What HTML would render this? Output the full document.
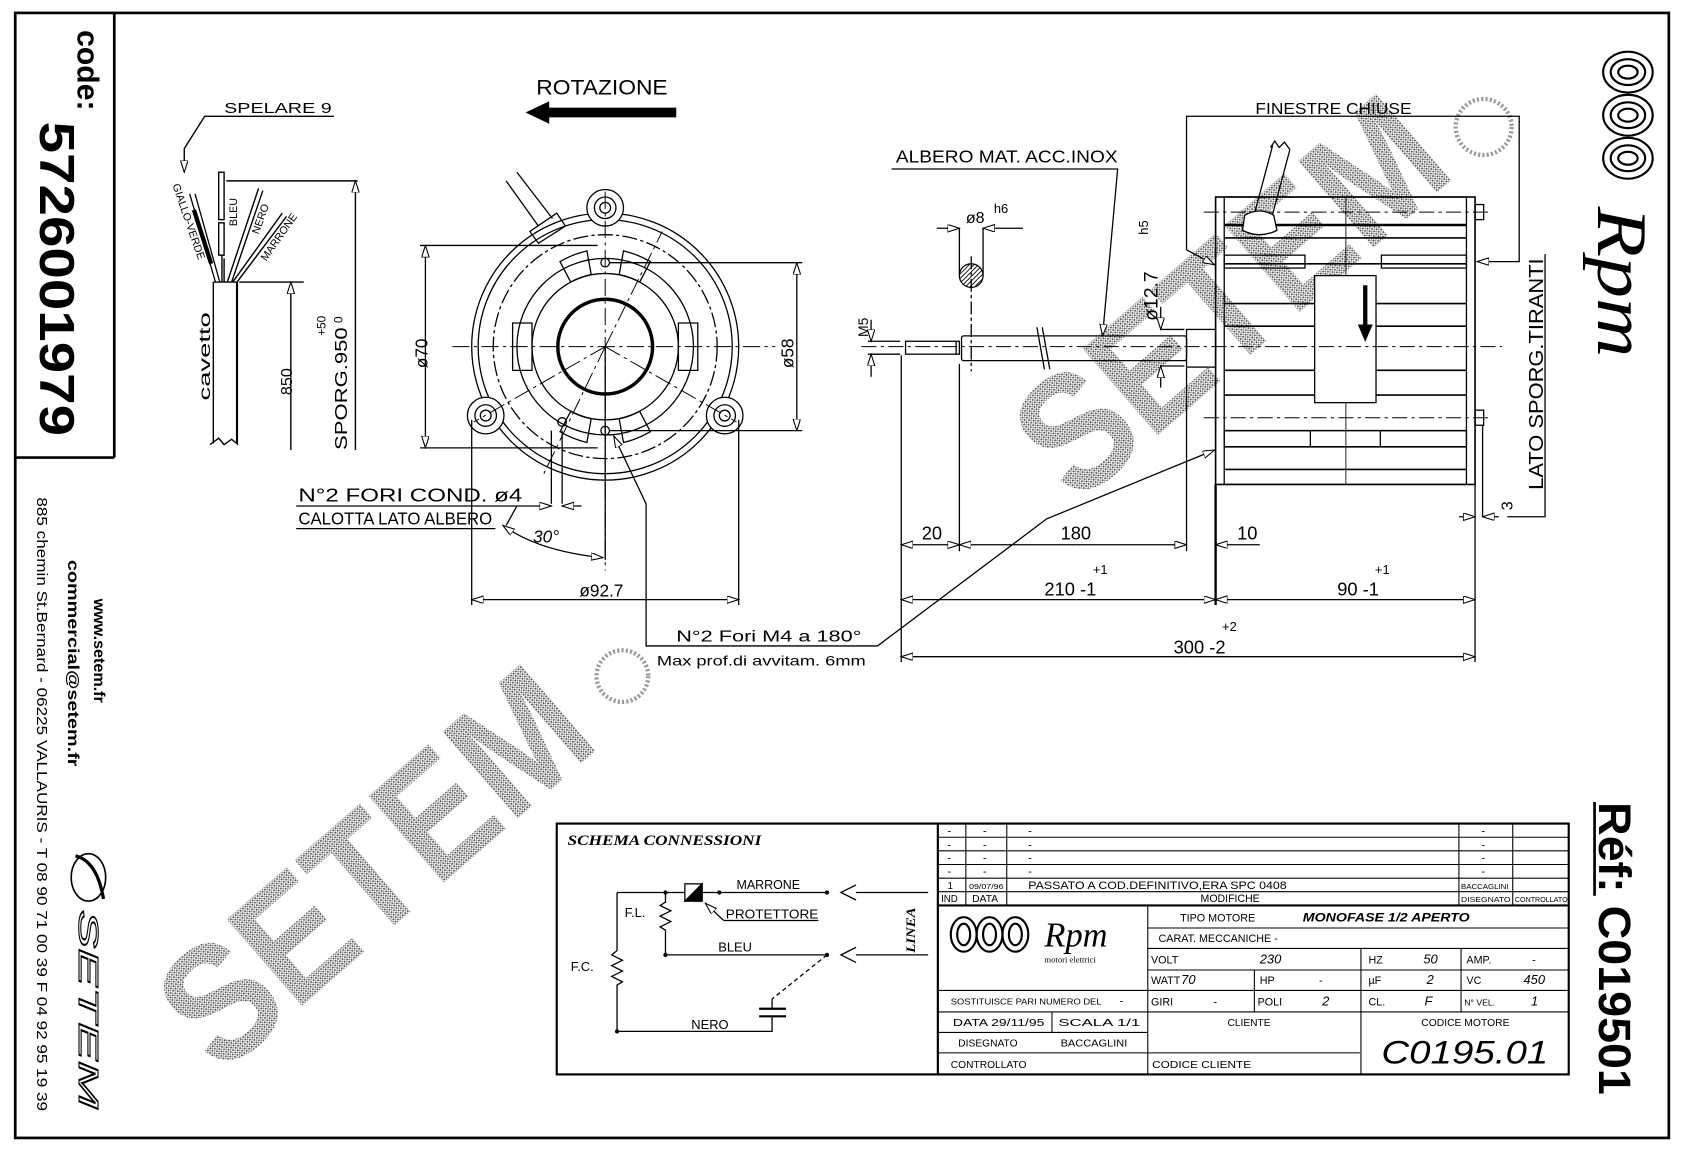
<!DOCTYPE html>
<html><head><meta charset="utf-8"><style>
html,body{margin:0;padding:0;background:#fff;}
svg{display:block;}
text{font-family:"Liberation Sans",sans-serif;fill:#000;}
</style></head><body>
<svg width="1683" height="1153" viewBox="0 0 1563 1071" xmlns="http://www.w3.org/2000/svg">
<defs>
<marker id="a" markerWidth="12" markerHeight="8" refX="11" refY="3.5" orient="auto-start-reverse" markerUnits="userSpaceOnUse">
<path d="M0,0 L11,3.5 L0,7 z" fill="#fff" stroke="#000" stroke-width="1"/></marker>
<pattern id="dots" width="3" height="3" patternUnits="userSpaceOnUse">
<rect width="3" height="3" fill="#fff"/><rect x="0" y="0" width="1.6" height="1.6" fill="#555"/><rect x="1.6" y="1.6" width="1.2" height="1.2" fill="#777"/></pattern>
<pattern id="hatch" width="3" height="3" patternUnits="userSpaceOnUse" patternTransform="rotate(45)">
<rect width="3" height="3" fill="#fff"/><line x1="0" y1="0" x2="0" y2="3" stroke="#000" stroke-width="1.6"/></pattern>
</defs>
<rect width="1563" height="1071" fill="#fff"/>

<!-- watermarks -->
<g font-weight="bold">
<text transform="translate(205,1000) rotate(-41)" font-size="155" textLength="470" lengthAdjust="spacingAndGlyphs" style="fill:url(#dots)">SETEM</text>
<text transform="translate(1000,470) rotate(-41)" font-size="155" textLength="470" lengthAdjust="spacingAndGlyphs" style="fill:url(#dots)">SETEM</text>
</g>
<circle cx="578" cy="628" r="24" fill="none" stroke="#999" stroke-width="4" stroke-dasharray="2 2"/>
<circle cx="1378" cy="118" r="26" fill="none" stroke="#999" stroke-width="4" stroke-dasharray="2 2"/>

<!-- border -->
<rect x="14" y="12" width="1536" height="1045" fill="none" stroke="#000" stroke-width="2.5"/>
<line x1="106" y1="12" x2="106" y2="425" stroke="#000" stroke-width="2.5"/>
<line x1="14" y1="425" x2="106" y2="425" stroke="#000" stroke-width="2.5"/>
<text transform="translate(72,28) rotate(90)" font-size="28" font-weight="bold">code:</text>
<text transform="translate(37,113) rotate(90)" font-size="46" font-weight="bold" textLength="292" lengthAdjust="spacingAndGlyphs">5726001979</text>
<text transform="translate(87,556) rotate(90)" font-size="15" font-weight="bold">www.setem.fr</text>
<text transform="translate(63,520) rotate(90)" font-size="15" font-weight="bold" textLength="192" lengthAdjust="spacingAndGlyphs">commercial@setem.fr</text>
<text transform="translate(34,462) rotate(90)" font-size="14" textLength="570" lengthAdjust="spacingAndGlyphs">885 chemin St.Bernard  -  06225 VALLAURIS  -  T 08 90 71 00 39  F 04 92 95 19 39</text>
<ellipse cx="82" cy="815" rx="16" ry="22" fill="none" stroke="#000" stroke-width="1.5"/>
<path d="M70,795 Q90,800 96,835" fill="none" stroke="#000" stroke-width="3"/>
<text transform="translate(73,845) rotate(90)" font-size="26" font-style="italic" stroke="#000" stroke-width="1" style="fill:none" textLength="185" lengthAdjust="spacingAndGlyphs">SETEM</text>

<!-- right logo -->
<g fill="none" stroke="#000" stroke-width="2">
<ellipse cx="1512" cy="67" rx="23" ry="19"/><ellipse cx="1512" cy="67" rx="16" ry="12"/><ellipse cx="1512" cy="67" rx="9" ry="6"/>
<ellipse cx="1512" cy="107" rx="23" ry="19"/><ellipse cx="1512" cy="107" rx="16" ry="12"/><ellipse cx="1512" cy="107" rx="9" ry="6"/>
<ellipse cx="1512" cy="147" rx="23" ry="19"/><ellipse cx="1512" cy="147" rx="16" ry="12"/><ellipse cx="1512" cy="147" rx="9" ry="6"/>
</g>
<text transform="translate(1484,192) rotate(90)" font-size="66" font-style="italic" style="font-family:'Liberation Serif',serif" textLength="140" lengthAdjust="spacingAndGlyphs">Rpm</text>
<text transform="translate(1485,745) rotate(90)" font-size="42" font-weight="bold" textLength="272" lengthAdjust="spacingAndGlyphs">Réf: C019501</text>
<line x1="1481" y1="745" x2="1481" y2="832" stroke="#000" stroke-width="2.5"/>

<!-- ===== cable ===== -->
<g stroke="#000" stroke-width="1.3" fill="none">
<text x="208" y="105" font-size="14" stroke="none" style="fill:#000" textLength="100" lengthAdjust="spacingAndGlyphs">SPELARE  9</text>
<polyline points="310,108 190,108 171,138"/>
<line x1="171" y1="138" x2="171" y2="160" marker-end="url(#a)"/>
<line x1="198" y1="262" x2="198" y2="412"/><line x1="220" y1="262" x2="220" y2="412" stroke-width="2"/>
<path d="M195,413 L203,407 L208,413 L215,408 L221,413"/>
<line x1="198" y1="262" x2="220" y2="262"/>
<path d="M200,262 L176,180 M204,262 L181,180" stroke-width="1.2"/>
<path d="M180,195 L196,245" stroke-width="4"/>
<rect x="203" y="160" width="5" height="44"/><rect x="203" y="207" width="5" height="30"/>
<line x1="206" y1="237" x2="206" y2="262"/><line x1="208" y1="240" x2="208" y2="262"/>
<path d="M211,262 L240,175 M215,262 L244,177"/>
<path d="M216,262 L262,198 M220,262 L266,201"/>
<text transform="translate(160,172) rotate(71)" font-size="10" stroke="none" style="fill:#000">GIALLO-VERDE</text>
<text transform="translate(220,210) rotate(-90)" font-size="10" stroke="none" style="fill:#000">BLEU</text>
<text transform="translate(240,218) rotate(-70)" font-size="10" stroke="none" style="fill:#000">NERO</text>
<text transform="translate(247,243) rotate(-55)" font-size="10" stroke="none" style="fill:#000">MARRONE</text>
<text transform="translate(195,372) rotate(-90)" font-size="15" stroke="none" style="fill:#000" textLength="82" lengthAdjust="spacingAndGlyphs">cavetto</text>
<line x1="210" y1="168" x2="332" y2="168"/><line x1="222" y1="262" x2="282" y2="262"/>
<line x1="270" y1="418" x2="270" y2="262" marker-end="url(#a)"/>
<line x1="330" y1="418" x2="330" y2="168" marker-end="url(#a)"/>
<text transform="translate(271,367) rotate(-90)" font-size="15" stroke="none" style="fill:#000">850</text>
<text transform="translate(322,418) rotate(-90)" font-size="16" stroke="none" style="fill:#000" textLength="114" lengthAdjust="spacingAndGlyphs">SPORG.950</text>
<text transform="translate(302,312) rotate(-90)" font-size="11" stroke="none" style="fill:#000">+50</text>
<text transform="translate(318,300) rotate(-90)" font-size="11" stroke="none" style="fill:#000">0</text>
</g>

<!-- ===== rotazione ===== -->
<text x="498" y="88" font-size="20" textLength="122" lengthAdjust="spacingAndGlyphs">ROTAZIONE</text>
<rect x="508" y="100" width="120" height="9" fill="#000"/>
<path d="M488,104.5 L510,94 L510,115 z" fill="#000"/>

<!-- ===== front view ===== -->
<g stroke="#000" fill="none" stroke-width="1.2">
<circle cx="562" cy="322" r="124"/>
<circle cx="562" cy="322" r="118"/>
<circle cx="562" cy="322" r="104" stroke-dasharray="14 3 3 3"/>
<circle cx="562" cy="322" r="82"/>
<circle cx="562" cy="322" r="68"/>
<circle cx="562" cy="322" r="44" stroke-width="3.2"/>
<circle cx="562" cy="193" r="17" fill="#fff"/><circle cx="562" cy="193" r="10"/><circle cx="562" cy="193" r="5"/>
<circle cx="451" cy="386" r="17" fill="#fff"/><circle cx="451" cy="386" r="10"/><circle cx="451" cy="386" r="5"/>
<circle cx="673" cy="386" r="17" fill="#fff"/><circle cx="673" cy="386" r="10"/><circle cx="673" cy="386" r="5"/>
<path d="M520,243 A90,90 0 0 1 545,233 L549,255 A68,68 0 0 0 530,262 z" />
<path d="M579,233 A90,90 0 0 1 604,243 L594,262 A68,68 0 0 0 575,255 z"/>
<path d="M476,300 L476,344 L494,344 L494,300 z"/>
<path d="M630,300 L630,344 L648,344 L648,300 z"/>
<path d="M520,401 A90,90 0 0 0 545,411 L549,389 A68,68 0 0 1 530,382 z"/>
<path d="M579,411 A90,90 0 0 0 604,401 L594,382 A68,68 0 0 1 575,389 z"/>
<circle cx="562" cy="244" r="4"/><circle cx="562" cy="400" r="4"/>
<circle cx="522" cy="392" r="4"/>
<path d="M500,210 L470,168 M513,203 L480,160"/>
<path d="M492,215 L517,198 L525,210 L500,226 z"/>
<g stroke-dasharray="16 4 3 4" stroke-width="0.9">
<line x1="562" y1="178" x2="562" y2="530"/>
<line x1="420" y1="322" x2="720" y2="322"/>
<line x1="562" y1="322" x2="440" y2="392"/>
<line x1="562" y1="322" x2="684" y2="392"/>
<line x1="562" y1="322" x2="505" y2="440"/>
<line x1="562" y1="322" x2="615" y2="215"/>
</g>
<line x1="390" y1="228" x2="555" y2="228"/><line x1="390" y1="416" x2="555" y2="416"/>
<line x1="395" y1="322" x2="395" y2="228" marker-end="url(#a)"/><line x1="395" y1="322" x2="395" y2="416" marker-end="url(#a)"/>
<line x1="566" y1="244" x2="745" y2="244"/><line x1="566" y1="400" x2="745" y2="400"/>
<line x1="740" y1="322" x2="740" y2="244" marker-end="url(#a)"/><line x1="740" y1="322" x2="740" y2="400" marker-end="url(#a)"/>
<line x1="438" y1="390" x2="438" y2="562"/><line x1="686" y1="390" x2="686" y2="562"/>
<line x1="562" y1="557" x2="438" y2="557" marker-end="url(#a)"/><line x1="562" y1="557" x2="686" y2="557" marker-end="url(#a)"/>
<line x1="512" y1="400" x2="512" y2="468"/><line x1="522" y1="400" x2="522" y2="468"/>
<polyline points="275,470 512,470" marker-end="url(#a)"/><line x1="540" y1="470" x2="522" y2="470" marker-end="url(#a)"/>
<line x1="275" y1="491" x2="460" y2="491"/>
<line x1="562" y1="322" x2="562" y2="520"/>
<path d="M467,488 Q500,512 560,518" marker-start="url(#a)" marker-end="url(#a)"/>
<line x1="470" y1="488" x2="480" y2="470"/>
<polyline points="815,600 600,600 600,468 570,405" marker-end="url(#a)"/>
<polyline points="815,600 972,482 1128,418" marker-end="url(#a)"/>
</g>
<text transform="translate(397,342) rotate(-90)" font-size="16">ø70</text>
<text transform="translate(737,342) rotate(-90)" font-size="16">ø58</text>
<text x="538" y="554" font-size="16">ø92.7</text>
<text x="277" y="466" font-size="17" textLength="208" lengthAdjust="spacingAndGlyphs">N°2 FORI COND.  ø4</text>
<text x="277" y="487" font-size="16" textLength="180" lengthAdjust="spacingAndGlyphs">CALOTTA LATO ALBERO</text>
<text x="495" y="504" font-size="16" font-style="italic">30°</text>
<text x="628" y="596" font-size="15" textLength="172" lengthAdjust="spacingAndGlyphs">N°2 Fori M4 a 180°</text>
<text x="610" y="618" font-size="13" textLength="194" lengthAdjust="spacingAndGlyphs">Max prof.di avvitam. 6mm</text>

<!-- ===== side view ===== -->
<g stroke="#000" fill="none" stroke-width="1.2">
<text x="832" y="151" font-size="16" stroke="none" style="fill:#000" textLength="206" lengthAdjust="spacingAndGlyphs">ALBERO MAT. ACC.INOX</text>
<polyline points="828,157 1038,157 1024,312" marker-end="url(#a)"/>
<text x="1166" y="106" font-size="15" stroke="none" style="fill:#000" textLength="145" lengthAdjust="spacingAndGlyphs">FINESTRE CHIUSE</text>
<polyline points="1102,232 1102,108 1411,108 1411,243 1372,243" marker-end="url(#a)"/>
<line x1="1102" y1="232" x2="1128" y2="246" marker-end="url(#a)"/>
<text transform="translate(1433,455) rotate(-90)" font-size="19" stroke="none" style="fill:#000" textLength="215" lengthAdjust="spacingAndGlyphs">LATO SPORG.TIRANTI</text>
<polyline points="1435,236 1435,480 1400,480"/>
<rect x="1129" y="183" width="241" height="267" stroke-width="1.5"/>
<rect x="1137" y="183" width="225" height="267"/>
<line x1="1250" y1="183" x2="1250" y2="450" stroke-width="0.8"/>
<g stroke-width="1.5">
<line x1="1137" y1="209" x2="1362" y2="209" stroke-width="2.4"/>
<line x1="1137" y1="221" x2="1362" y2="221"/>
<line x1="1137" y1="245" x2="1362" y2="245"/>
<line x1="1137" y1="282" x2="1221" y2="282"/><line x1="1278" y1="282" x2="1362" y2="282"/>
<line x1="1137" y1="303" x2="1221" y2="303"/><line x1="1278" y1="303" x2="1362" y2="303"/>
<line x1="1137" y1="344" x2="1221" y2="344"/><line x1="1278" y1="344" x2="1362" y2="344"/>
<line x1="1137" y1="367" x2="1362" y2="367"/>
<line x1="1137" y1="400" x2="1362" y2="400"/>
<line x1="1137" y1="415" x2="1362" y2="415"/>
<line x1="1137" y1="436" x2="1362" y2="436"/>
</g>
<rect x="1137" y="237" width="75" height="12"/><rect x="1283" y="237" width="79" height="12"/>
<rect x="1137" y="400" width="80" height="15"/><rect x="1282" y="400" width="80" height="15"/>
<rect x="1221" y="256" width="57" height="118" fill="#fff"/>
<line x1="1268" y1="265" x2="1268" y2="306" stroke-width="4"/>
<path d="M1262,302 L1274,302 L1268,316 z" fill="#000"/>
<g stroke-dasharray="14 4 3 4" stroke-width="0.9">
<line x1="1118" y1="197" x2="1385" y2="197"/><line x1="1118" y1="388" x2="1385" y2="388"/>
<line x1="800" y1="322" x2="1395" y2="322"/>
</g>
<rect x="1370" y="190" width="8" height="14"/><rect x="1370" y="381" width="8" height="14"/>
<path d="M1162,210 L1182,135 M1179,210 L1198,139"/>
<path d="M1180,137 L1184,131 L1188,137 L1193,132 L1198,139" />
<path d="M1156,200 Q1170,192 1183,200 L1186,214 Q1170,222 1154,214 z" fill="#fff"/>
<rect x="1102" y="306" width="27" height="35"/>
<rect x="893" y="312" width="209" height="23" rx="2"/>
<rect x="841" y="317" width="50" height="12"/>
<line x1="888" y1="317" x2="888" y2="329"/>
<path d="M963,304 L970,343 M968,304 L975,343" />
<circle cx="902" cy="256" r="11" style="fill:url(#hatch)"/>
<line x1="902" y1="238" x2="902" y2="345" stroke-dasharray="12 3 3 3"/>
<line x1="891" y1="212" x2="891" y2="256"/><line x1="913" y1="212" x2="913" y2="256"/>
<line x1="870" y1="212" x2="891" y2="212" marker-end="url(#a)"/><line x1="950" y1="212" x2="913" y2="212" marker-end="url(#a)"/>
<text x="897" y="207" font-size="15" stroke="none" style="fill:#000">ø8</text>
<text x="923" y="198" font-size="12" stroke="none" style="fill:#000">h6</text>
<line x1="806" y1="317" x2="836" y2="317"/><line x1="806" y1="329" x2="836" y2="329"/>
<line x1="809" y1="297" x2="809" y2="317" marker-end="url(#a)"/><line x1="809" y1="350" x2="809" y2="329" marker-end="url(#a)"/>
<text transform="translate(806,313) rotate(-90)" font-size="13" stroke="none" style="fill:#000">M5</text>
<line x1="1078" y1="285" x2="1078" y2="306" marker-end="url(#a)"/><line x1="1078" y1="360" x2="1078" y2="340" marker-end="url(#a)"/>
<line x1="1078" y1="306" x2="1100" y2="306"/><line x1="1078" y1="340" x2="1100" y2="340"/>
<text transform="translate(1075,298) rotate(-90)" font-size="18" stroke="none" style="fill:#000">ø12.7</text>
<text transform="translate(1066,218) rotate(-90)" font-size="12" stroke="none" style="fill:#000">h5</text>
<line x1="837" y1="330" x2="837" y2="615"/>
<line x1="891" y1="338" x2="891" y2="512"/>
<line x1="1102" y1="342" x2="1102" y2="512"/>
<line x1="1129" y1="450" x2="1129" y2="562" stroke-width="2.2"/>
<line x1="1370" y1="450" x2="1370" y2="615"/>
<line x1="1377" y1="395" x2="1377" y2="480"/>
<line x1="864" y1="506" x2="837" y2="506" marker-end="url(#a)"/><line x1="864" y1="506" x2="891" y2="506" marker-end="url(#a)"/>
<line x1="1000" y1="506" x2="891" y2="506" marker-end="url(#a)"/><line x1="1000" y1="506" x2="1102" y2="506" marker-end="url(#a)"/>
<line x1="1170" y1="506" x2="1129" y2="506" marker-end="url(#a)"/>
<line x1="1000" y1="557" x2="837" y2="557" marker-end="url(#a)"/><line x1="1000" y1="557" x2="1129" y2="557" marker-end="url(#a)"/>
<line x1="1250" y1="557" x2="1129" y2="557" marker-end="url(#a)"/><line x1="1250" y1="557" x2="1370" y2="557" marker-end="url(#a)"/>
<line x1="1100" y1="610" x2="837" y2="610" marker-end="url(#a)"/><line x1="1100" y1="610" x2="1370" y2="610" marker-end="url(#a)"/>
<line x1="1355" y1="480" x2="1370" y2="480" marker-end="url(#a)"/><line x1="1392" y1="480" x2="1377" y2="480" marker-end="url(#a)"/>
</g>
<g font-size="17">
<text x="856" y="501">20</text><text x="985" y="501">180</text><text x="1149" y="501">10</text>
<text x="970" y="553">210 -1</text><text x="1015" y="533" font-size="12">+1</text>
<text x="1242" y="553">90 -1</text><text x="1277" y="533" font-size="12">+1</text>
<text x="1090" y="607">300 -2</text><text x="1135" y="586" font-size="12">+2</text>
<text transform="translate(1405,474) rotate(-90)" font-size="15">3</text>
</g>

<!-- ===== table ===== -->
<g stroke="#000" fill="none" stroke-width="1">
<rect x="517" y="765" width="940" height="233" stroke-width="2"/>
<line x1="871" y1="765" x2="871" y2="998" stroke-width="2"/>
<line x1="871" y1="777.7" x2="1457" y2="777.7"/>
<line x1="871" y1="790.3" x2="1457" y2="790.3"/>
<line x1="871" y1="803" x2="1457" y2="803"/>
<line x1="871" y1="815.7" x2="1457" y2="815.7"/>
<line x1="871" y1="828.3" x2="1457" y2="828.3"/>
<line x1="871" y1="841" x2="1457" y2="841" stroke-width="2"/>
<line x1="897" y1="765" x2="897" y2="841"/><line x1="935" y1="765" x2="935" y2="841"/>
<line x1="1355" y1="765" x2="1355" y2="841"/><line x1="1405" y1="765" x2="1405" y2="841"/>
<line x1="1066" y1="862" x2="1457" y2="862"/>
<line x1="1066" y1="881" x2="1457" y2="881"/>
<line x1="1066" y1="901" x2="1457" y2="901"/>
<line x1="871" y1="920" x2="1457" y2="920"/>
<line x1="871" y1="940" x2="1457" y2="940"/>
<line x1="871" y1="959" x2="1066" y2="959"/>
<line x1="871" y1="978" x2="1263" y2="978"/>
<line x1="1066" y1="841" x2="1066" y2="998"/>
<line x1="1165" y1="901" x2="1165" y2="940"/>
<line x1="1264" y1="881" x2="1264" y2="998"/>
<line x1="1357" y1="881" x2="1357" y2="940"/>
<line x1="977" y1="940" x2="977" y2="959"/>
</g>
<g font-size="10">
<text x="880" y="775">-</text><text x="913" y="775">-</text><text x="955" y="775">-</text><text x="1376" y="775">-</text>
<text x="880" y="788">-</text><text x="913" y="788">-</text><text x="955" y="788">-</text><text x="1376" y="788">-</text>
<text x="880" y="800">-</text><text x="913" y="800">-</text><text x="955" y="800">-</text><text x="1376" y="800">-</text>
<text x="880" y="813">-</text><text x="913" y="813">-</text><text x="955" y="813">-</text><text x="1376" y="813">-</text>
<text x="880" y="826" font-size="9">1</text><text x="900" y="826" font-size="7" textLength="32" lengthAdjust="spacingAndGlyphs">09/07/96</text>
<text x="955" y="826" font-size="10" textLength="240" lengthAdjust="spacingAndGlyphs">PASSATO A COD.DEFINITIVO,ERA SPC 0408</text>
<text x="1357" y="826" font-size="7" textLength="44" lengthAdjust="spacingAndGlyphs">BACCAGLINI</text>
<text x="874" y="838" font-size="9">IND</text><text x="903" y="838" font-size="9.5">DATA</text>
<text x="1115" y="838" font-size="10" textLength="55" lengthAdjust="spacingAndGlyphs">MODIFICHE</text>
<text x="1357" y="838" font-size="7" textLength="46" lengthAdjust="spacingAndGlyphs">DISEGNATO</text><text x="1407" y="838" font-size="7" textLength="49" lengthAdjust="spacingAndGlyphs">CONTROLLATO</text>
<text x="1096" y="856" font-size="10">TIPO MOTORE</text>
<text x="1210" y="856" font-size="11" font-style="italic" font-weight="bold" textLength="155" lengthAdjust="spacingAndGlyphs">MONOFASE 1/2 APERTO</text>
<text x="1076" y="875" font-size="10">CARAT. MECCANICHE   -</text>
<text x="1069" y="895">VOLT</text><text x="1170" y="895" font-style="italic" font-size="12">230</text>
<text x="1271" y="895">HZ</text><text x="1322" y="895" font-style="italic" font-size="12">50</text>
<text x="1362" y="895">AMP.</text><text x="1423" y="895">-</text>
<text x="1069" y="914">WATT</text><text x="1097" y="914" font-style="italic" font-size="12">70</text>
<text x="1170" y="914">HP</text><text x="1225" y="914">-</text>
<text x="1271" y="914">µF</text><text x="1325" y="914" font-style="italic" font-size="12">2</text>
<text x="1362" y="914">VC</text><text x="1415" y="914" font-style="italic" font-size="12">450</text>
<text x="1069" y="934">GIRI</text><text x="1127" y="934">-</text>
<text x="1168" y="934">POLI</text><text x="1228" y="934" font-style="italic" font-size="12">2</text>
<text x="1271" y="934">CL.</text><text x="1323" y="934" font-style="italic" font-size="12">F</text>
<text x="1360" y="934" font-size="8">N° VEL.</text><text x="1422" y="934" font-style="italic" font-size="12">1</text>
<text x="883" y="933" font-size="8" textLength="140" lengthAdjust="spacingAndGlyphs">SOSTITUISCE PARI NUMERO DEL</text><text x="1040" y="933">-</text>
<text x="885" y="953" font-size="9.5" textLength="85" lengthAdjust="spacingAndGlyphs">DATA   29/11/95</text><text x="983" y="953" font-size="9.5" textLength="76" lengthAdjust="spacingAndGlyphs">SCALA     1/1</text>
<text x="890" y="972" font-size="9.5">DISEGNATO</text><text x="985" y="972" font-size="9" textLength="62" lengthAdjust="spacingAndGlyphs">BACCAGLINI</text>
<text x="883" y="992" font-size="9.5">CONTROLLATO</text>
<text x="1140" y="953" font-size="9.5">CLIENTE</text>
<text x="1070" y="992" font-size="9.5" textLength="92" lengthAdjust="spacingAndGlyphs">CODICE CLIENTE</text>
<text x="1320" y="953" font-size="9.5" textLength="82" lengthAdjust="spacingAndGlyphs">CODICE MOTORE</text>
<text x="1283" y="988" font-size="30" font-style="italic" textLength="155" lengthAdjust="spacingAndGlyphs">C0195.01</text>
</g>
<g fill="none" stroke="#000" stroke-width="2">
<ellipse cx="895" cy="868" rx="12" ry="16"/><ellipse cx="895" cy="868" rx="6" ry="10"/>
<ellipse cx="919" cy="868" rx="12" ry="16"/><ellipse cx="919" cy="868" rx="6" ry="10"/>
<ellipse cx="943" cy="868" rx="12" ry="16"/><ellipse cx="943" cy="868" rx="6" ry="10"/>
</g>
<text x="970" y="879" font-size="32" font-style="italic" style="font-family:'Liberation Serif',serif">Rpm</text>
<text x="970" y="894" font-size="8" style="font-family:'Liberation Serif',serif">motori elettrici</text>

<!-- schema -->
<text x="527" y="785" font-size="14" font-style="italic" font-weight="bold" style="font-family:'Liberation Serif',serif" textLength="180" lengthAdjust="spacingAndGlyphs">SCHEMA CONNESSIONI</text>
<g stroke="#000" fill="none" stroke-width="1.2">
<line x1="573" y1="829" x2="636" y2="829"/><line x1="652" y1="829" x2="768" y2="829"/>
<rect x="636" y="821" width="16" height="16"/>
<path d="M652,821 L652,837 L636,837 z" fill="#000"/>
<line x1="795" y1="829" x2="862" y2="829"/><path d="M795,822 L781,829 L795,836"/>
<line x1="795" y1="887" x2="862" y2="887"/><path d="M795,880 L781,887 L795,894"/>
<polyline points="618,829 618,838 613,841 623,846 613,851 623,856 613,861 618,864 618,887"/>
<line x1="618" y1="887" x2="768" y2="887"/>
<polyline points="573,829 573,883 568,887 578,892 568,897 578,902 568,907 578,912 573,915 573,958 717,958 717,944"/>
<line x1="705" y1="944" x2="730" y2="944" stroke-width="2"/><line x1="705" y1="937" x2="730" y2="937" stroke-width="2"/>
<line x1="717" y1="937" x2="717" y2="928"/>
<line x1="768" y1="887" x2="717" y2="928" stroke-dasharray="4 3"/>
<line x1="672" y1="855" x2="760" y2="855"/>
<line x1="672" y1="855" x2="655" y2="839" marker-end="url(#a)"/>
</g>
<g fill="#000"><circle cx="618" cy="829" r="2"/><circle cx="668" cy="829" r="2"/><circle cx="768" cy="829" r="2"/><circle cx="768" cy="887" r="2"/><circle cx="618" cy="887" r="2"/><circle cx="573" cy="958" r="2"/></g>
<g font-size="12">
<text x="684" y="826" textLength="59" lengthAdjust="spacingAndGlyphs">MARRONE</text><text x="674" y="853" textLength="86" lengthAdjust="spacingAndGlyphs">PROTETTORE</text>
<text x="667" y="884">BLEU</text><text x="642" y="956">NERO</text>
<text x="580" y="852">F.L.</text><text x="530" y="902">F.C.</text>
</g>
<text transform="translate(850,885) rotate(-90)" font-size="12" font-style="italic" font-weight="bold" style="font-family:'Liberation Serif',serif" textLength="42" lengthAdjust="spacingAndGlyphs">LINEA</text>
</svg>
</body></html>
